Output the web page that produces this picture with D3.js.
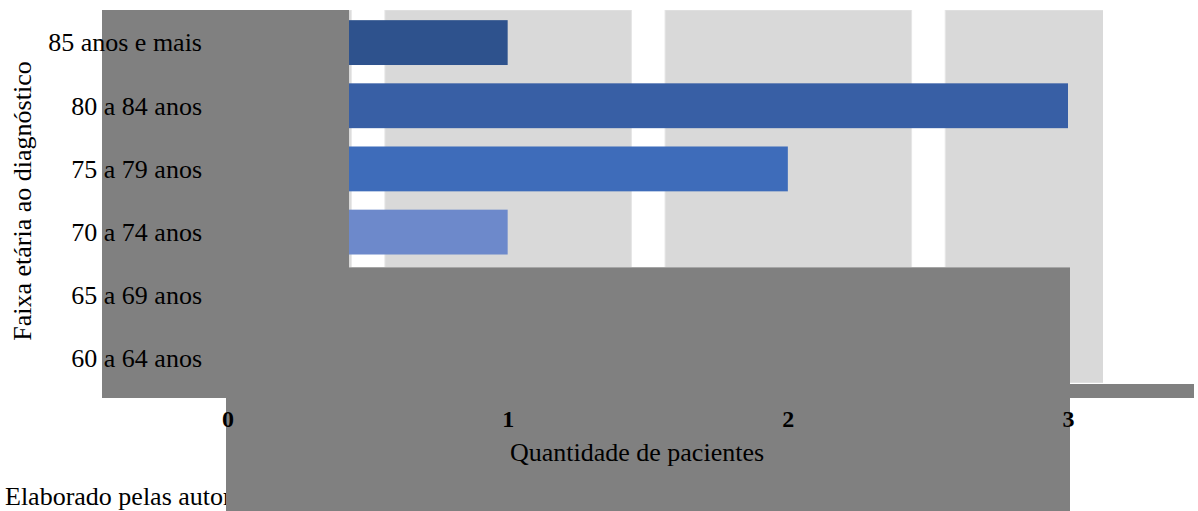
<!DOCTYPE html>
<html>
<head>
<meta charset="utf-8">
<script src="https://cdn.jsdelivr.net/npm/d3@7"></script>
<style>
  html, body { margin: 0; padding: 0; background: #fff; }
  svg { display: block; }
  text { font-family: "Liberation Serif", "Times New Roman", serif; fill: #000; }
</style>
</head>
<body>
<svg id="chart" width="1198" height="511"></svg>
<script>
// Age groups at diagnosis, top to bottom
const categories = ["85 anos e mais", "80 a 84 anos", "75 a 79 anos", "70 a 74 anos", "65 a 69 anos", "60 a 64 anos"];
// Number of patients per age group
const values = [1, 3, 2, 1, 0, 0];
// Bar fill per age group
const barColors = ["#2e528d", "#385fa5", "#3e6cba", "#6d89cb", "#6d89cb", "#6d89cb"];
// Quantity axis ticks
const tickValues = [0, 1, 2, 3];
const tickLabels = ["0", "1", "2", "3"];

const svg = d3.select("#chart");

const plot = { left: 102, right: 1103, top: 10, bottom: 383 };

const x = d3.scaleLinear().domain([0, 3]).range([227.5, 1068]);
const y = d3.scaleBand().domain(categories).range([11, 390]).paddingInner(0.29).paddingOuter(0.145);

// Clip path for the plot area
svg.append("defs").append("clipPath").attr("id", "plotClip")
  .append("rect")
  .attr("x", plot.left).attr("y", plot.top)
  .attr("width", plot.right - plot.left).attr("height", plot.bottom - plot.top);

// Shaded bands centred on each tick value
const halfBand = 0.44;
svg.append("g").attr("clip-path", "url(#plotClip)")
  .selectAll("rect.band")
  .data(tickValues)
  .join("rect")
  .attr("class", "band")
  .attr("x", d => x(d - halfBand) + 0.5)
  .attr("y", plot.top)
  .attr("width", d => x(d + halfBand) - x(d - halfBand))
  .attr("height", plot.bottom - plot.top)
  .attr("fill", "#d9d9d9")
  .attr("stroke", "#e6e6e6")
  .attr("stroke-width", 1);

// Bars
svg.append("g")
  .selectAll("rect.bar")
  .data(categories)
  .join("rect")
  .attr("class", "bar")
  .attr("x", x(0))
  .attr("y", d => y(d))
  .attr("height", y.bandwidth())
  .attr("width", (d, i) => x(values[i]) - x(0))
  .attr("fill", (d, i) => barColors[i]);

// Grey overlay panels
const overlay = svg.append("g").attr("fill", "#808080");
overlay.append("rect").attr("x", 102).attr("y", 10).attr("width", 247).attr("height", 258);
overlay.append("rect").attr("x", 102).attr("y", 267).attr("width", 968).attr("height", 131);
overlay.append("rect").attr("x", 226).attr("y", 397).attr("width", 844).attr("height", 114);
overlay.append("rect").attr("x", 1069).attr("y", 384).attr("width", 125).attr("height", 14);
svg.append("line").attr("x1", 349).attr("x2", 1070).attr("y1", 267.5).attr("y2", 267.5)
  .attr("stroke", "#a6a6a6").attr("stroke-width", 1);

// Category axis labels
const yAxis = d3.axisLeft(y).tickSize(0).tickPadding(0);
const gy = svg.append("g").attr("transform", "translate(202,0)").call(yAxis);
gy.select(".domain").remove();
gy.selectAll("text")
  .attr("font-family", "Liberation Serif, Times New Roman, serif")
  .attr("font-size", 26)
  .attr("fill", "#000")
  .attr("dy", "0.34em");

// Quantity axis tick labels
const xAxis = d3.axisBottom(x).tickValues(tickValues).tickFormat((d, i) => tickLabels[i]).tickSize(0).tickPadding(0);
const gx = svg.append("g").attr("transform", "translate(0,401)").call(xAxis);
gx.select(".domain").remove();
gx.selectAll("text")
  .attr("font-family", "Liberation Serif, Times New Roman, serif")
  .attr("font-size", 24)
  .attr("font-weight", "bold")
  .attr("fill", "#000")
  .attr("dy", "1.1em");

// Axis titles
svg.append("text")
  .attr("x", 637).attr("y", 461)
  .attr("text-anchor", "middle")
  .attr("font-size", 26)
  .text("Quantidade de pacientes");

svg.append("text")
  .attr("transform", "translate(31,201) rotate(-90)")
  .attr("text-anchor", "middle")
  .attr("font-size", 26)
  .text("Faixa etária ao diagnóstico");

// Source note
svg.append("text")
  .attr("x", 5).attr("y", 505)
  .attr("font-size", 26)
  .text("Elaborado pelas autoras.");

// Overlay the lower panel on the note
svg.append("rect").attr("x", 226).attr("y", 470).attr("width", 844).attr("height", 41).attr("fill", "#808080");
</script>
</body>
</html>
